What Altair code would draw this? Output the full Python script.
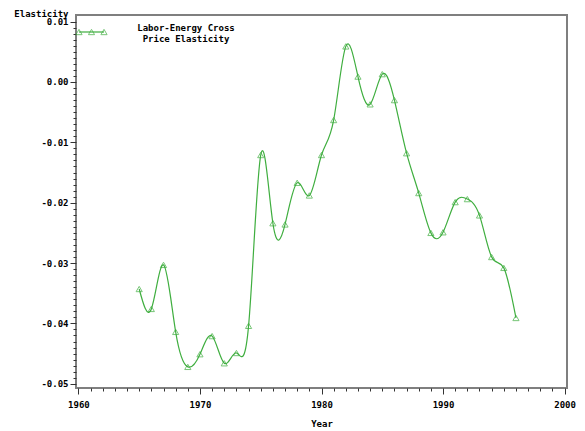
import altair as alt
import pandas as pd

# Labor-energy cross price elasticity by year
years = list(range(1965, 1997))
elasticity = [
    -0.0343, -0.0376, -0.0303, -0.0414, -0.0472, -0.0451, -0.0421, -0.0466,
    -0.0449, -0.0404, -0.0121, -0.0234, -0.0236, -0.0167, -0.0188, -0.0121,
    -0.0063, 0.0059, 0.0009, -0.0037, 0.0013, -0.0030, -0.0118, -0.0184,
    -0.0250, -0.0249, -0.0199, -0.0194, -0.0221, -0.0290, -0.0308, -0.0391,
]

# axis ticks: yearly minor ticks on x, 0.001 minor ticks on y
x_ticks = list(range(1960, 2001))
y_ticks = [round(-0.05 + i * 0.001, 3) for i in range(61)]

legend_lines = ["Labor-Energy Cross", "Price Elasticity"]

df = pd.DataFrame({"Year": years, "Elasticity": elasticity})

GREEN = "#3fae3f"
FONT = "DejaVu Sans Mono"

x_major = "datum.value % 10 === 0"
y_major = "abs(datum.value * 100 - round(datum.value * 100)) < 0.001"

common = dict(
    labelOverlap=False,
    labelFlush=False,
    labelBound=False,
    domain=False,
    grid=False,
    tickColor="#333333",
    labelFont=FONT,
    labelFontSize=9,
    labelFontWeight="bold",
    labelColor="black",
    titleFont=FONT,
    titleFontSize=9,
    titleFontWeight="bold",
    titleColor="black",
)

x_axis = alt.Axis(
    values=x_ticks,
    title="Year",
    labelExpr=f"{x_major} ? format(datum.value, 'd') : ''",
    tickSize={"condition": {"test": x_major, "value": 6}, "value": 3},
    labelPadding=6,
    titleY=35,
    titleBaseline="middle",
    **common,
)

y_axis = alt.Axis(
    values=y_ticks,
    title="Elasticity",
    labelExpr=(
        f"{y_major} ? ((datum.value < -1e-9 ? '-' : '') + "
        "format(abs(datum.value), '.2f')) : ''"
    ),
    tickSize={"condition": {"test": y_major, "value": 6}, "value": 3},
    labelPadding=2,
    titleAngle=0,
    titleAlign="right",
    titleBaseline="alphabetic",
    titleX=-8,
    titleY=1,
    **common,
)

x_scale = alt.Scale(domain=[1959.8, 2000.2], nice=False, zero=False)
y_scale = alt.Scale(domain=[-0.0507, 0.0111], nice=False, zero=False)

x_enc = alt.X("Year:Q", scale=x_scale, axis=x_axis)
y_enc = alt.Y("Elasticity:Q", scale=y_scale, axis=y_axis)

line = alt.Chart(df).mark_line(
    interpolate="natural", color=GREEN, strokeWidth=1.2
).encode(x=x_enc, y=y_enc)

points = alt.Chart(df).mark_point(
    shape="triangle-up", filled=False, color=GREEN, size=38, strokeWidth=1
).encode(x=x_enc, y=y_enc)

# legend: short line with three triangle markers and a two-line label
one = pd.DataFrame({"k": [0]})
legend_rule = alt.Chart(one).mark_rule(color=GREEN, strokeWidth=1.2).encode(
    x=alt.value(3), x2=alt.value(28), y=alt.value(17)
)
legend_marks = [
    alt.Chart(one).mark_point(
        shape="triangle-up", filled=False, color=GREEN, size=38, strokeWidth=1
    ).encode(x=alt.value(px), y=alt.value(17))
    for px in (3, 15.5, 28)
]
legend_text = [
    alt.Chart(one).mark_text(
        text=txt, font=FONT, fontSize=9, fontWeight="bold", color="black",
        align="center", baseline="middle",
    ).encode(x=alt.value(110), y=alt.value(yy))
    for txt, yy in zip(legend_lines, (13, 24))
]

chart = alt.layer(line, points, legend_rule, *legend_marks, *legend_text).properties(
    width=491,
    height=373,
    autosize=alt.AutoSizeParams(type="none"),
    padding={"left": 76, "top": 15, "right": 18, "bottom": 43},
    background="white",
).configure_view(stroke="#7f7f7f", strokeWidth=2)

chart.save("out.html", embed_options={"renderer": "svg", "actions": False})
